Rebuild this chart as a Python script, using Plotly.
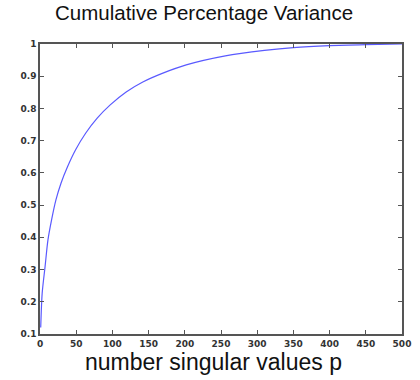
import plotly.graph_objects as go

# Number of singular values kept and the cumulative share of variance they explain
p_values = [1, 3, 7, 11, 16, 22, 29, 38, 49, 63, 79, 97, 119, 142, 168, 202, 256, 310, 350, 400, 450, 500]
cum_variance = [0.12, 0.226, 0.309, 0.392, 0.454, 0.516, 0.568, 0.619, 0.671, 0.723, 0.770, 0.811,
                0.851, 0.882, 0.908, 0.935, 0.963, 0.980, 0.989, 0.995, 0.998, 1.0]

x_ticks = [0, 50, 100, 150, 200, 250, 300, 350, 400, 450, 500]
y_ticks = [0.1, 0.2, 0.3, 0.4, 0.5, 0.6, 0.7, 0.8, 0.9, 1]

title_text = "Cumulative Percentage Variance"
x_label = "number singular values p"

fig = go.Figure()
fig.add_trace(go.Scatter(
    x=p_values, y=cum_variance, mode="lines",
    line=dict(color="#5a5aff", width=1.2, shape="spline", smoothing=0.8),
    hoverinfo="skip", showlegend=False,
))

axis_style = dict(
    showline=True, linecolor="#555555", linewidth=1.5, mirror="ticks",
    ticks="inside", ticklen=4, tickcolor="#555555", tickwidth=1,
    showgrid=False, zeroline=False,
    tickfont=dict(family="DejaVu Sans", size=9, color="#333333", weight="bold"),
)

fig.update_xaxes(range=[0, 500], tickvals=x_ticks, ticktext=[str(v) for v in x_ticks], **axis_style)
fig.update_yaxes(range=[0.1, 1], tickvals=y_ticks, ticktext=[f"{v:g}" for v in y_ticks], **axis_style)

fig.update_layout(
    width=420, height=380,
    margin=dict(l=40, r=9, t=44, b=46),
    paper_bgcolor="white", plot_bgcolor="white",
    annotations=[
        dict(text=title_text, xref="paper", yref="paper", x=0.453, y=1.110,
             xanchor="center", yanchor="middle", showarrow=False,
             font=dict(family="Liberation Sans", size=20.5, color="#111111")),
        dict(text=x_label, xref="paper", yref="paper", x=0.48, y=-0.0966,
             xanchor="center", yanchor="middle", showarrow=False,
             font=dict(family="Liberation Sans", size=23, color="#111111")),
    ],
)

fig.write_html("out.html")
